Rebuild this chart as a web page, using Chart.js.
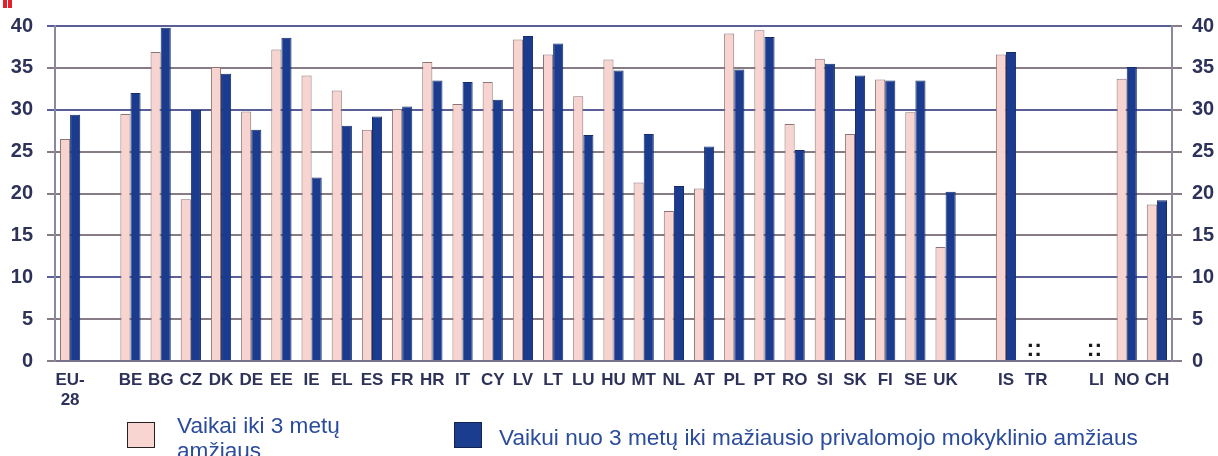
<!DOCTYPE html>
<html><head><meta charset="utf-8">
<script src="https://cdn.jsdelivr.net/npm/chart.js@4/dist/chart.umd.min.js"></script>
<style>
html,body{margin:0;padding:0;background:#fff;}
#wrap{position:relative;width:1218px;height:456px;overflow:hidden;background:#fff;}
canvas{position:absolute;left:0;top:0;}
.leg{position:absolute;font-family:"Liberation Sans",Arial,sans-serif;font-size:22.6px;color:#2b4c9c;line-height:25px;white-space:nowrap;}
.box{position:absolute;box-sizing:border-box;}
.red{position:absolute;top:0;height:8px;width:4px;background:#e3202b;}
</style></head><body>
<div id="wrap">
<canvas id="c" width="1218" height="456"></canvas>
<div class="red" style="left:3px"></div><div class="red" style="left:8px"></div>
<div class="box" style="left:127px;top:422px;width:28px;height:26px;background:#f9d5d2;border:1.5px solid #222;"></div>
<div class="leg" style="left:177px;top:413px;">Vaikai iki 3 metų<br>amžiaus</div>
<div class="box" style="left:454px;top:422px;width:28px;height:26px;background:#1b3d8f;border:1px solid #10224f;"></div>
<div class="leg" style="left:499px;top:425px;">Vaikui nuo 3 metų iki mažiausio privalomojo mokyklinio amžiaus</div>
</div>
<script>
const categories = [['EU-','28'], '', 'BE','BG','CZ','DK','DE','EE','IE','EL','ES','FR','HR','IT','CY','LV','LT','LU','HU','MT','NL','AT','PL','PT','RO','SI','SK','FI','SE','UK', '', 'IS','TR', '', 'LI','NO','CH'];
const seriesNames = ['Vaikai iki 3 metų amžiaus', 'Vaikui nuo 3 metų iki mažiausio privalomojo mokyklinio amžiaus'];
const under3 = [26.5, null, 29.5, 36.9, 19.3, 35.1, 29.8, 37.2, 34.1, 32.3, 27.6, 30.1, 35.7, 30.7, 33.3, 38.4, 36.6, 31.6, 36.0, 21.3, 17.9, 20.6, 39.1, 39.5, 28.3, 36.1, 27.1, 33.6, 29.7, 13.6, null, 36.6, null, null, null, 33.7, 18.7];
const over3  = [29.4, null, 32.0, 39.8, 30.0, 34.3, 27.6, 38.6, 21.9, 28.1, 29.2, 30.4, 33.5, 33.3, 31.2, 38.8, 37.9, 27.0, 34.7, 27.1, 20.9, 25.6, 34.8, 38.7, 25.2, 35.5, 34.1, 33.5, 33.5, 20.2, null, 36.9, null, null, null, 35.1, 19.2];
const notAvailable = ['TR', 'LI'];
const yTicks = [0, 5, 10, 15, 20, 25, 30, 35, 40];

const tickFont = {family: '"Liberation Sans", Arial, sans-serif', size: 20, weight: 'bold'};
const xFont = {family: '"Liberation Sans", Arial, sans-serif', size: 17, weight: 'bold'};
const labelColor = '#2d3259';

const naPlugin = {
  id: 'na',
  afterDatasetsDraw(chart) {
    const ctx = chart.ctx, xs = chart.scales.x, ys = chart.scales.y;
    ctx.save();
    ctx.fillStyle = '#1a1a1a';
    ctx.font = 'bold 23px "Liberation Sans", Arial, sans-serif';
    ctx.textAlign = 'center';
    ctx.textBaseline = 'alphabetic';
    notAvailable.forEach(c => {
      const i = categories.indexOf(c);
      ctx.fillText('::', xs.getPixelForValue(i) - 2, ys.getPixelForValue(0) - 5);
    });
    ctx.restore();
  }
};

new Chart(document.getElementById('c'), {
  type: 'bar',
  data: {
    labels: categories,
    datasets: [
      {label: seriesNames[0], data: under3, backgroundColor: '#f8d4d1', borderColor: '#8c7374', borderWidth: 1, yAxisID: 'y'},
      {label: seriesNames[1], data: over3, backgroundColor: '#1b3c8e', borderColor: '#142c6a', borderWidth: 1, yAxisID: 'y'}
    ]
  },
  options: {
    responsive: false,
    animation: false,
    layout: {padding: {top: 22, left: 0, right: 0, bottom: 0}},
    datasets: {bar: {categoryPercentage: 0.67, barPercentage: 1.0}},
    plugins: {legend: {display: false}, tooltip: {enabled: false}},
    scales: {
      x: {
        offset: true,
        grid: {display: false, drawTicks: false},
        border: {display: true, color: '#77728a', width: 2},
        ticks: {font: xFont, color: labelColor, padding: 9, maxRotation: 0, autoSkip: false},
        afterFit(s) { s.height = 95; }
      },
      y: {
        position: 'left',
        min: 0, max: 40,
        afterBuildTicks(s) { s.ticks = yTicks.map(v => ({value: v})); },
        grid: {
          color: c => ([10, 30, 40].includes(c.tick && c.tick.value) ? '#5b5f97' : '#877c86'),
          lineWidth: 2, tickLength: 8
        },
        border: {display: true, color: '#8a88a0', width: 2},
        ticks: {font: tickFont, color: labelColor, padding: 14},
        afterFit(s) { s.width = 55; }
      },
      y2: {
        position: 'right',
        min: 0, max: 40,
        afterBuildTicks(s) { s.ticks = yTicks.map(v => ({value: v})); },
        grid: {drawOnChartArea: false, color: '#877c86', lineWidth: 2, tickLength: 10},
        border: {display: true, color: '#8a88a0', width: 2},
        ticks: {font: tickFont, color: labelColor, padding: 10},
        afterFit(s) { s.width = 46; }
      }
    }
  },
  plugins: [naPlugin]
});
</script>
</body></html>
